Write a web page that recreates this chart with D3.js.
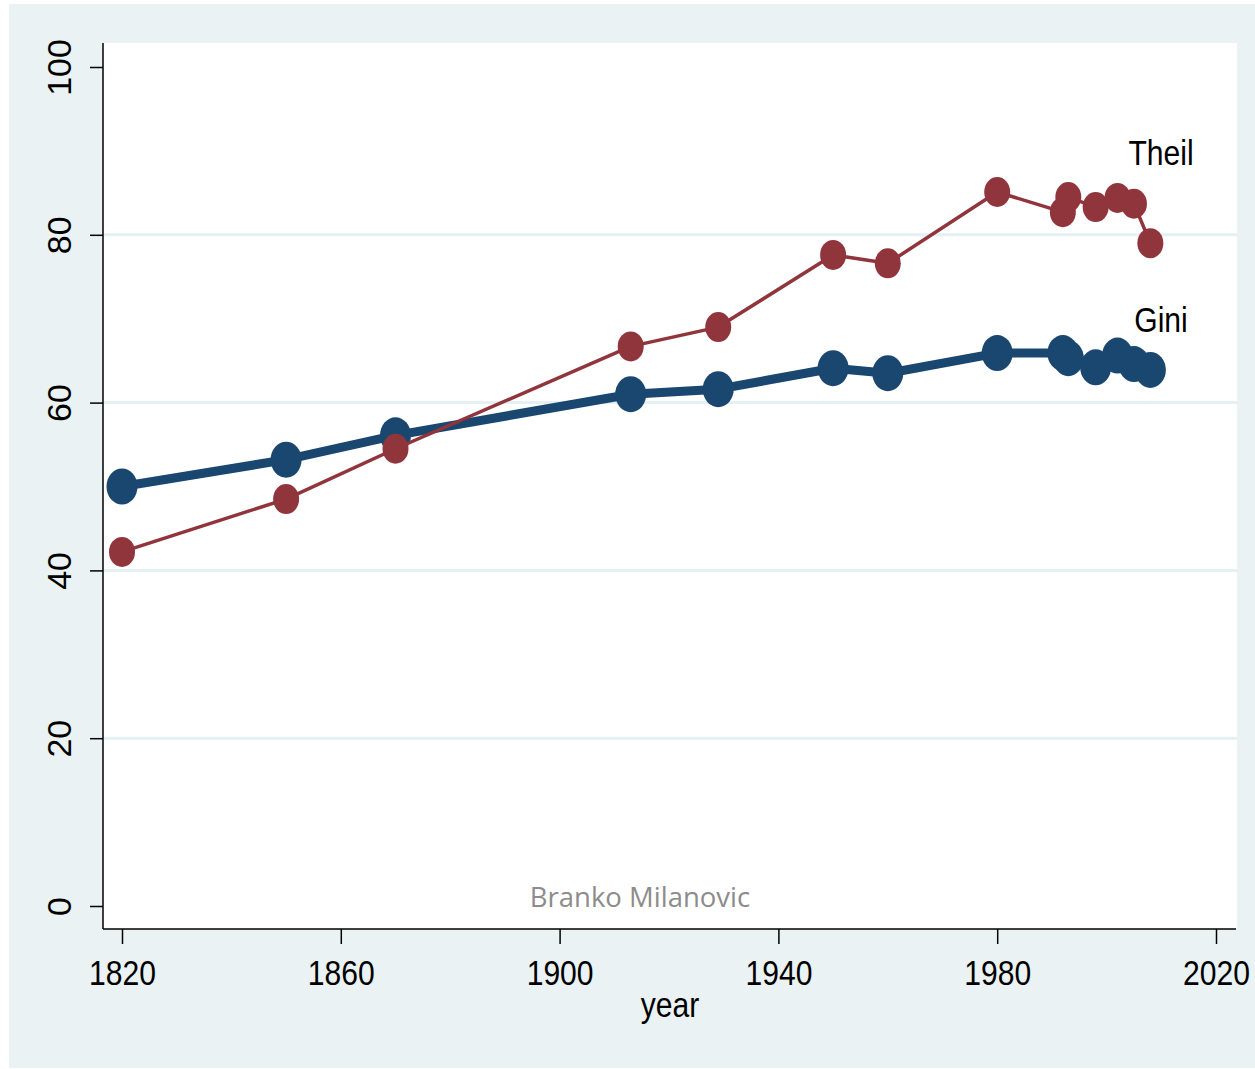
<!DOCTYPE html>
<meta charset="utf-8">
<style>
  body { margin: 0; background: #fff; }
  .narrow { font-family: "Liberation Sans Narrow", "Liberation Sans", Arial, sans-serif; }
</style>
<body>
<script src="https://d3js.org/d3.v7.min.js"></script>
<script>

// data
var years     = [1820, 1850, 1870, 1913, 1929, 1950, 1960, 1980, 1992, 1993, 1998, 2002, 2005, 2008];
var giniVals  = [50.0, 53.2, 56.1, 61.0, 61.6, 64.1, 63.5, 65.9, 65.9, 65.3, 64.2, 65.6, 64.6, 63.9];
var theilVals = [42.2, 48.5, 54.5, 66.7, 69.0, 77.6, 76.6, 85.1, 82.7, 84.5, 83.3, 84.4, 83.7, 79.0];
var xTicks = [1820, 1860, 1900, 1940, 1980, 2020];
var yTicks = [0, 20, 40, 60, 80, 100];
var gridTicks = [20, 40, 60, 80];

var W = 1255, H = 1069;
var plot = {left: 103, right: 1237, top: 43, bottom: 929};
var squeeze = "scale(0.86,1)";   // condensed look of the stata font

var svg = d3.select("body").append("svg")
    .attr("width", W)
    .attr("height", H);

// outer background
svg.append("rect")
    .attr("x", 9).attr("y", 4)
    .attr("width", W - 9).attr("height", 1064)
    .attr("fill", "#eaf2f3");

// plot region
svg.append("rect")
    .attr("x", plot.left).attr("y", plot.top)
    .attr("width", plot.right - plot.left)
    .attr("height", plot.bottom - plot.top)
    .attr("fill", "#fff");

var x = d3.scaleLinear().domain([1820, 2020]).range([122, 1216]);
var y = d3.scaleLinear().domain([0, 100]).range([906, 67]);

// grid lines
svg.append("g").selectAll("line")
    .data(gridTicks)
  .enter().append("line")
    .attr("x1", plot.left).attr("x2", plot.right)
    .attr("y1", d => y(d)).attr("y2", d => y(d))
    .attr("stroke", "#e6eff1")
    .attr("stroke-width", 3);

// y axis
var yAxis = svg.append("g")
    .attr("transform", "translate(" + plot.left + ",0)")
    .call(d3.axisLeft(y).tickValues(yTicks).tickSize(13).tickPadding(8).tickSizeOuter(0));
yAxis.select(".domain").attr("d", "M0," + plot.top + "V" + plot.bottom)
    .attr("stroke", "#000").attr("stroke-width", 1.5);
yAxis.selectAll(".tick line").attr("stroke", "#000").attr("stroke-width", 1.5);
yAxis.selectAll(".tick text")
    .attr("font-family", "Liberation Sans, Arial, sans-serif")
    .attr("font-size", 34)
    .attr("fill", "#000")
    .attr("text-anchor", "middle")
    .attr("dy", 0)
    .attr("transform", "translate(-32,0) rotate(-90)")
    .attr("x", 0).attr("y", 0);

// x axis
var xAxis = svg.append("g")
    .attr("transform", "translate(0," + plot.bottom + ")")
    .call(d3.axisBottom(x).tickValues(xTicks).tickFormat(d3.format("d")).tickSize(15).tickPadding(10).tickSizeOuter(0));
xAxis.select(".domain").attr("d", "M" + plot.left + ",0H" + (plot.right - 1))
    .attr("stroke", "#000").attr("stroke-width", 1.5);
xAxis.selectAll(".tick line").attr("stroke", "#000").attr("stroke-width", 1.5);
xAxis.selectAll(".tick text")
    .attr("class", "narrow")
    .attr("font-size", 35)
    .attr("fill", "#000")
    .attr("dy", 0)
    .attr("y", 0)
    .attr("transform", "translate(0,56) " + squeeze);

// axis title
svg.append("text")
    .attr("class", "narrow")
    .attr("transform", "translate(670,1017) " + squeeze)
    .attr("text-anchor", "middle")
    .attr("font-size", 35)
    .text("year");

var giniData = years.map((d, i) => ({year: d, v: giniVals[i]}));
var theilData = years.map((d, i) => ({year: d, v: theilVals[i]}));

var line = d3.line().x(d => x(d.year)).y(d => y(d.v));

// Gini series
svg.append("path")
    .datum(giniData)
    .attr("d", line)
    .attr("fill", "none")
    .attr("stroke", "#1a476f")
    .attr("stroke-width", 9)
    .attr("stroke-linejoin", "round");
svg.append("g").selectAll("ellipse")
    .data(giniData)
  .enter().append("ellipse")
    .attr("cx", d => x(d.year)).attr("cy", d => y(d.v))
    .attr("rx", 15.5).attr("ry", 18)
    .attr("fill", "#1a476f");

// Theil series
svg.append("path")
    .datum(theilData)
    .attr("d", line)
    .attr("fill", "none")
    .attr("stroke", "#90353b")
    .attr("stroke-width", 3.5)
    .attr("stroke-linejoin", "round");
svg.append("g").selectAll("ellipse")
    .data(theilData)
  .enter().append("ellipse")
    .attr("cx", d => x(d.year)).attr("cy", d => y(d.v))
    .attr("rx", 13).attr("ry", 15)
    .attr("fill", "#90353b");

// series labels
svg.append("text")
    .attr("class", "narrow")
    .attr("transform", "translate(1161,165) " + squeeze)
    .attr("text-anchor", "middle")
    .attr("font-size", 35)
    .text("Theil");
svg.append("text")
    .attr("class", "narrow")
    .attr("transform", "translate(1161,332) " + squeeze)
    .attr("text-anchor", "middle")
    .attr("font-size", 35)
    .text("Gini");

// watermark
svg.append("text")
    .attr("x", 640).attr("y", 907)
    .attr("text-anchor", "middle")
    .attr("font-family", "'Open Sans', sans-serif")
    .attr("font-size", 27.5)
    .attr("fill", "#8c8c8c")
    .text("Branko Milanovic");

</script>
</body>
